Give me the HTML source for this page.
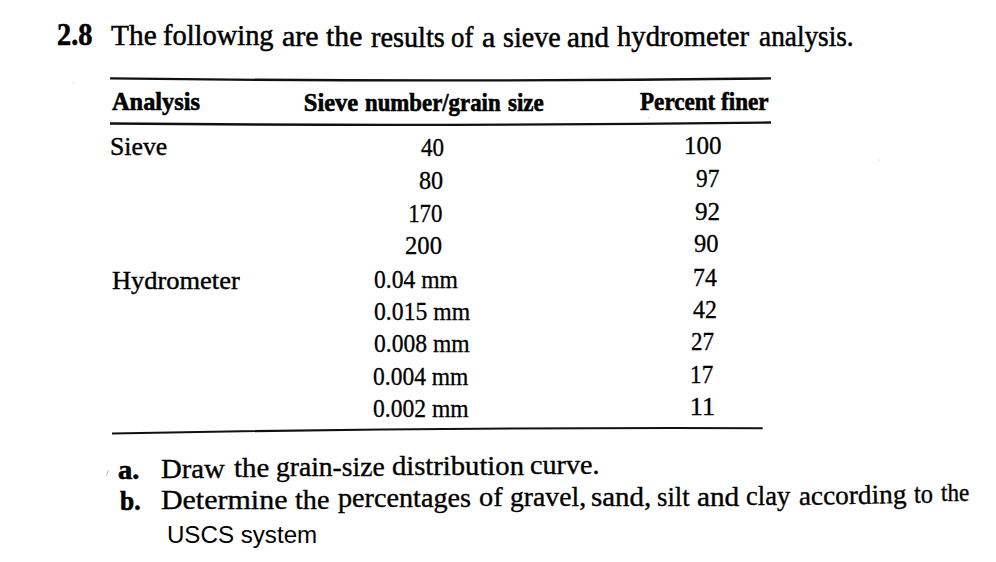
<!DOCTYPE html>
<html><head><meta charset="utf-8"><style>
html,body{margin:0;padding:0;background:#fff;}
body{width:996px;height:562px;position:relative;overflow:hidden;}
span{position:absolute;white-space:nowrap;line-height:1;color:#000;-webkit-text-stroke:0.6px #000;}
.rule{position:absolute;background:#1a1a1a;}
</style></head><body>
<svg style="position:absolute;left:0;top:0" width="996" height="562">
<path d="M110 78.4 Q440.5 82.4 771 78.4" stroke="#111" stroke-width="2.3" fill="none"/>
<path d="M110 123.5 Q440.5 126.6 771 122.5" stroke="#111" stroke-width="2.3" fill="none"/>
<path d="M112 433.5 Q437 427.2 762.7 428.2" stroke="#111" stroke-width="2.1" fill="none"/>
<path d="M73.5 81 q-1.5 1.5 0 3.5" stroke="#ddd" stroke-width="0.8" fill="none"/><path d="M108.7 470 L106 476.4" stroke="#bbb" stroke-width="1" fill="none"/><circle cx="649" cy="118" r="0.6" fill="#aaa"/><circle cx="879" cy="160" r="0.6" fill="#bbb"/></svg>

<span style="left:56.90px;top:20.10px;font-family:'Liberation Serif', serif;font-weight:bold;font-size:30.5px;transform-origin:1px 25.00px;transform:scaleX(0.9270);-webkit-text-stroke-width:0.6px">2.8</span>
<span style="left:110.60px;top:20.80px;font-family:'Liberation Serif', serif;font-weight:normal;font-size:29px;transform-origin:0px 24.00px;transform:scaleX(1.0136);-webkit-text-stroke-width:0.5px">The</span>
<span style="left:163.20px;top:20.90px;font-family:'Liberation Serif', serif;font-weight:normal;font-size:29px;transform-origin:1px 24.00px;transform:scaleX(0.9804);-webkit-text-stroke-width:0.5px">following</span>
<span style="left:282.00px;top:21.80px;font-family:'Liberation Serif', serif;font-weight:normal;font-size:29px;transform-origin:1px 24.00px;transform:scaleX(1.0353);-webkit-text-stroke-width:0.5px">are</span>
<span style="left:326.40px;top:22.40px;font-family:'Liberation Serif', serif;font-weight:normal;font-size:29px;transform-origin:0px 24.00px;transform:scaleX(1.0257);-webkit-text-stroke-width:0.5px">the</span>
<span style="left:370.70px;top:22.70px;font-family:'Liberation Serif', serif;font-weight:normal;font-size:29px;transform-origin:0px 24.00px;transform:scaleX(0.9747);-webkit-text-stroke-width:0.5px">results</span>
<span style="left:451.20px;top:22.70px;font-family:'Liberation Serif', serif;font-weight:normal;font-size:29px;transform-origin:1px 24.00px;transform:scaleX(0.9250);-webkit-text-stroke-width:0.5px">of</span>
<span style="left:481.90px;top:22.70px;font-family:'Liberation Serif', serif;font-weight:normal;font-size:29px;transform-origin:1px 24.00px;transform:scaleX(1.0333);-webkit-text-stroke-width:0.5px">a</span>
<span style="left:502.50px;top:22.70px;font-family:'Liberation Serif', serif;font-weight:normal;font-size:29px;transform-origin:1px 24.00px;transform:scaleX(0.9672);-webkit-text-stroke-width:0.5px">sieve</span>
<span style="left:567.10px;top:22.70px;font-family:'Liberation Serif', serif;font-weight:normal;font-size:29px;transform-origin:1px 24.00px;transform:scaleX(1.0024);-webkit-text-stroke-width:0.5px">and</span>
<span style="left:617.30px;top:22.00px;font-family:'Liberation Serif', serif;font-weight:normal;font-size:29px;transform-origin:0px 24.00px;transform:scaleX(0.9873);-webkit-text-stroke-width:0.5px">hydrometer</span>
<span style="left:759.20px;top:21.70px;font-family:'Liberation Serif', serif;font-weight:normal;font-size:29px;transform-origin:1px 24.00px;transform:scaleX(0.9398);-webkit-text-stroke-width:0.5px">analysis.</span>
<span style="left:111.70px;top:88.80px;font-family:'Liberation Serif', serif;font-weight:bold;font-size:25px;transform-origin:0px 21.00px;transform:scaleX(0.9744);-webkit-text-stroke-width:0.6px">Analysis</span>
<span style="left:303.80px;top:91.30px;font-family:'Liberation Serif', serif;font-weight:bold;font-size:24.5px;transform-origin:1px 20.00px;transform:scaleX(1.0000);-webkit-text-stroke-width:0.6px">Sieve</span>
<span style="left:365.00px;top:91.30px;font-family:'Liberation Serif', serif;font-weight:bold;font-size:24.5px;transform-origin:0px 20.00px;transform:scaleX(0.9308);-webkit-text-stroke-width:0.6px">number/grain</span>
<span style="left:508.20px;top:91.30px;font-family:'Liberation Serif', serif;font-weight:bold;font-size:24.5px;transform-origin:0px 20.00px;transform:scaleX(0.9395);-webkit-text-stroke-width:0.6px">size</span>
<span style="left:639.80px;top:88.80px;font-family:'Liberation Serif', serif;font-weight:bold;font-size:25px;transform-origin:0px 21.00px;transform:scaleX(0.9245);-webkit-text-stroke-width:0.6px">Percent finer</span>
<span style="left:109.70px;top:133.80px;font-family:'Liberation Serif', serif;font-weight:normal;font-size:25.5px;transform-origin:2px 21.00px;transform:scaleX(1.0111);-webkit-text-stroke-width:0.4px">Sieve</span>
<span style="left:111.50px;top:268.40px;font-family:'Liberation Serif', serif;font-weight:normal;font-size:25.5px;transform-origin:1px 21.00px;transform:scaleX(1.0369);-webkit-text-stroke-width:0.4px">Hydrometer</span>
<span style="left:420.60px;top:135.90px;font-family:'Liberation Serif', serif;font-weight:normal;font-size:24.5px;transform-origin:0px 20.00px;transform:scaleX(0.9417);-webkit-text-stroke-width:0.3px">40</span>
<span style="left:419.10px;top:169.00px;font-family:'Liberation Serif', serif;font-weight:normal;font-size:24.5px;transform-origin:1px 20.00px;transform:scaleX(0.9870);-webkit-text-stroke-width:0.3px">80</span>
<span style="left:407.70px;top:201.90px;font-family:'Liberation Serif', serif;font-weight:normal;font-size:24.5px;transform-origin:2px 20.00px;transform:scaleX(0.9324);-webkit-text-stroke-width:0.3px">170</span>
<span style="left:404.70px;top:233.80px;font-family:'Liberation Serif', serif;font-weight:normal;font-size:24.5px;transform-origin:1px 20.00px;transform:scaleX(1.0057);-webkit-text-stroke-width:0.3px">200</span>
<span style="left:373.70px;top:267.60px;font-family:'Liberation Serif', serif;font-weight:normal;font-size:24.5px;transform-origin:1px 20.00px;transform:scaleX(0.9628);-webkit-text-stroke-width:0.3px">0.04 mm</span>
<span style="left:373.70px;top:299.70px;font-family:'Liberation Serif', serif;font-weight:normal;font-size:24.5px;transform-origin:1px 20.00px;transform:scaleX(0.9663);-webkit-text-stroke-width:0.3px">0.015 mm</span>
<span style="left:373.50px;top:332.20px;font-family:'Liberation Serif', serif;font-weight:normal;font-size:24.5px;transform-origin:1px 20.00px;transform:scaleX(0.9622);-webkit-text-stroke-width:0.3px">0.008 mm</span>
<span style="left:373.20px;top:364.50px;font-family:'Liberation Serif', serif;font-weight:normal;font-size:24.5px;transform-origin:1px 20.00px;transform:scaleX(0.9592);-webkit-text-stroke-width:0.3px">0.004 mm</span>
<span style="left:372.60px;top:397.20px;font-family:'Liberation Serif', serif;font-weight:normal;font-size:24.5px;transform-origin:1px 20.00px;transform:scaleX(0.9622);-webkit-text-stroke-width:0.3px">0.002 mm</span>
<span style="left:683.70px;top:133.80px;font-family:'Liberation Serif', serif;font-weight:normal;font-size:24.5px;transform-origin:2px 20.00px;transform:scaleX(1.0206);-webkit-text-stroke-width:0.3px">100</span>
<span style="left:696.30px;top:166.60px;font-family:'Liberation Serif', serif;font-weight:normal;font-size:24.5px;transform-origin:1px 20.00px;transform:scaleX(0.9522);-webkit-text-stroke-width:0.3px">97</span>
<span style="left:694.90px;top:199.60px;font-family:'Liberation Serif', serif;font-weight:normal;font-size:24.5px;transform-origin:1px 20.00px;transform:scaleX(1.0273);-webkit-text-stroke-width:0.3px">92</span>
<span style="left:694.00px;top:232.40px;font-family:'Liberation Serif', serif;font-weight:normal;font-size:24.5px;transform-origin:1px 20.00px;transform:scaleX(1.0000);-webkit-text-stroke-width:0.3px">90</span>
<span style="left:693.00px;top:265.60px;font-family:'Liberation Serif', serif;font-weight:normal;font-size:24.5px;transform-origin:1px 20.00px;transform:scaleX(0.9696);-webkit-text-stroke-width:0.3px">74</span>
<span style="left:693.00px;top:298.20px;font-family:'Liberation Serif', serif;font-weight:normal;font-size:24.5px;transform-origin:0px 20.00px;transform:scaleX(0.9739);-webkit-text-stroke-width:0.3px">42</span>
<span style="left:691.40px;top:330.40px;font-family:'Liberation Serif', serif;font-weight:normal;font-size:24.5px;transform-origin:1px 20.00px;transform:scaleX(0.9435);-webkit-text-stroke-width:0.3px">27</span>
<span style="left:690.40px;top:363.00px;font-family:'Liberation Serif', serif;font-weight:normal;font-size:24.5px;transform-origin:2px 20.00px;transform:scaleX(0.9409);-webkit-text-stroke-width:0.3px">17</span>
<span style="left:689.70px;top:395.00px;font-family:'Liberation Serif', serif;font-weight:normal;font-size:24.5px;transform-origin:2px 20.00px;transform:scaleX(1.0700);-webkit-text-stroke-width:0.3px">11</span>
<span style="left:118.10px;top:457.10px;font-family:'Liberation Serif', serif;font-weight:bold;font-size:27px;transform-origin:1px 22.00px;transform:scaleX(1.0556);-webkit-text-stroke-width:0.6px">a.</span>
<span style="left:119.60px;top:487.80px;font-family:'Liberation Serif', serif;font-weight:bold;font-size:27px;transform-origin:0px 22.00px;transform:scaleX(0.9429);-webkit-text-stroke-width:0.6px">b.</span>
<span style="left:167.00px;top:523.90px;font-family:'Liberation Sans', sans-serif;font-weight:normal;font-size:23px;transform-origin:2px 19.00px;transform:scaleX(1.0500);-webkit-text-stroke-width:0px">USCS system</span>
<span style="left:161.20px;top:456.00px;font-family:'Liberation Serif', serif;font-weight:normal;font-size:27px;transform-origin:1px 22.00px;transform:scaleX(1.0644);-webkit-text-stroke-width:0.35px">Draw</span>
<span style="left:234.00px;top:455.30px;font-family:'Liberation Serif', serif;font-weight:normal;font-size:27px;transform-origin:0px 22.00px;transform:scaleX(1.0687);-webkit-text-stroke-width:0.35px">the</span>
<span style="left:275.80px;top:453.70px;font-family:'Liberation Serif', serif;font-weight:normal;font-size:27px;transform-origin:1px 22.00px;transform:scaleX(1.0210);-webkit-text-stroke-width:0.35px">grain-size</span>
<span style="left:391.70px;top:452.60px;font-family:'Liberation Serif', serif;font-weight:normal;font-size:27px;transform-origin:1px 22.00px;transform:scaleX(1.0602);-webkit-text-stroke-width:0.35px">distribution</span>
<span style="left:529.80px;top:452.30px;font-family:'Liberation Serif', serif;font-weight:normal;font-size:27px;transform-origin:1px 22.00px;transform:scaleX(1.0422);-webkit-text-stroke-width:0.35px">curve.</span>
<span style="left:161.40px;top:487.40px;font-family:'Liberation Serif', serif;font-weight:normal;font-size:27px;transform-origin:1px 22.00px;transform:scaleX(1.1107);-webkit-text-stroke-width:0.35px">Determine</span>
<span style="left:295.40px;top:486.50px;font-family:'Liberation Serif', serif;font-weight:normal;font-size:27px;transform-origin:0px 22.00px;transform:scaleX(1.0438);-webkit-text-stroke-width:0.35px">the</span>
<span style="left:338.20px;top:484.60px;font-family:'Liberation Serif', serif;font-weight:normal;font-size:27px;transform-origin:0px 22.00px;transform:scaleX(1.0433);-webkit-text-stroke-width:0.35px">percentages</span>
<span style="left:479.00px;top:484.30px;font-family:'Liberation Serif', serif;font-weight:normal;font-size:27px;transform-origin:1px 22.00px;transform:scaleX(1.0500);-webkit-text-stroke-width:0.35px">of</span>
<span style="left:510.10px;top:483.90px;font-family:'Liberation Serif', serif;font-weight:normal;font-size:27px;transform-origin:1px 22.00px;transform:scaleX(1.0264);-webkit-text-stroke-width:0.35px">gravel,</span>
<span style="left:590.50px;top:483.70px;font-family:'Liberation Serif', serif;font-weight:normal;font-size:27px;transform-origin:1px 22.00px;transform:scaleX(1.0704);-webkit-text-stroke-width:0.35px">sand,</span>
<span style="left:656.60px;top:484.00px;font-family:'Liberation Serif', serif;font-weight:normal;font-size:27px;transform-origin:1px 22.00px;transform:scaleX(0.9875);-webkit-text-stroke-width:0.35px">silt</span>
<span style="left:697.20px;top:483.80px;font-family:'Liberation Serif', serif;font-weight:normal;font-size:27px;transform-origin:1px 22.00px;transform:scaleX(1.0842);-webkit-text-stroke-width:0.35px">and</span>
<span style="left:746.40px;top:483.30px;font-family:'Liberation Serif', serif;font-weight:normal;font-size:27px;transform-origin:1px 22.00px;transform:scaleX(0.9818);-webkit-text-stroke-width:0.35px">clay</span>
<span style="left:799.00px;top:482.60px;font-family:'Liberation Serif', serif;font-weight:normal;font-size:27px;transform-origin:1px 22.00px;transform:rotate(-1.1deg) scaleX(1.0105);-webkit-text-stroke-width:0.35px">according</span>
<span style="left:913.50px;top:481.20px;font-family:'Liberation Serif', serif;font-weight:normal;font-size:27px;transform-origin:0px 22.00px;transform:scaleX(0.9050);-webkit-text-stroke-width:0.35px">to</span>
<span style="left:941.00px;top:480.00px;font-family:'Liberation Serif', serif;font-weight:normal;font-size:25px;transform-origin:0px 21.00px;transform:scaleX(0.9233);-webkit-text-stroke-width:0.35px">the</span>
</body></html>
